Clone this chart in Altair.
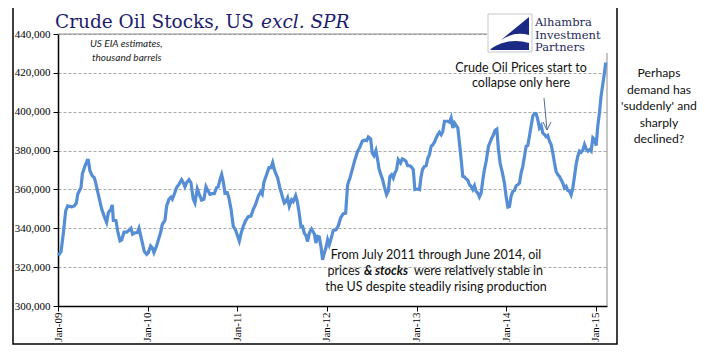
import altair as alt
import pandas as pd

# ---------------- data (decimal year, crude stocks in thousand barrels) ----------------
yr_2009 = [2009.004, 2009.034, 2009.060, 2009.086, 2009.108, 2009.153, 2009.182, 2009.205, 2009.220, 2009.257,
           2009.272, 2009.301, 2009.327, 2009.339, 2009.357, 2009.383, 2009.406, 2009.420, 2009.450, 2009.487,
           2009.517, 2009.543, 2009.562, 2009.592, 2009.606, 2009.618, 2009.647, 2009.666, 2009.692, 2009.711,
           2009.737, 2009.766, 2009.792, 2009.815, 2009.833, 2009.859, 2009.885, 2009.904, 2009.934, 2009.964,
           2009.990]
stk_2009 = [326, 328, 337.7, 349, 351.5, 351, 351.5, 353, 357.5, 361,
            368, 372, 375, 375, 369.5, 367, 366, 363.5, 357.5, 350,
            346, 343, 348, 350, 352, 344, 344, 338.6, 333.5, 334,
            338, 338, 339, 340, 337, 337.7, 337.7, 340, 334, 328,
            326.6]

yr_2010 = [2010.008, 2010.034, 2010.053, 2010.071, 2010.101, 2010.127, 2010.150, 2010.164, 2010.194, 2010.213,
           2010.239, 2010.261, 2010.276, 2010.298, 2010.324, 2010.350, 2010.380, 2010.399, 2010.417, 2010.436,
           2010.462, 2010.484, 2010.510, 2010.529, 2010.555, 2010.577, 2010.603, 2010.629, 2010.652, 2010.678,
           2010.696, 2010.722, 2010.745, 2010.771, 2010.789, 2010.808, 2010.827, 2010.845, 2010.864, 2010.890,
           2010.908, 2010.931, 2010.957, 2010.983]
stk_2010 = [327.5, 331, 330, 327.5, 331, 335, 338.6, 342, 344, 351.5,
            355, 356, 355, 357.5, 361, 362.6, 365, 363.5, 361.4, 363.5,
            365, 363.5, 355, 353, 360.3, 357.5, 354.5, 355, 361.4, 359,
            357.5, 357.8, 357.8, 361, 361.3, 365, 367.7, 364, 358, 358.3,
            355.7, 350, 341, 339]

yr_2011 = [2011.005, 2011.024, 2011.042, 2011.068, 2011.095, 2011.124, 2011.154, 2011.180, 2011.206, 2011.236,
           2011.262, 2011.280, 2011.299, 2011.329, 2011.355, 2011.377, 2011.396, 2011.414, 2011.433, 2011.452,
           2011.478, 2011.504, 2011.526, 2011.545, 2011.563, 2011.582, 2011.608, 2011.626, 2011.653, 2011.671,
           2011.690, 2011.712, 2011.731, 2011.749, 2011.768, 2011.786, 2011.805, 2011.831, 2011.861, 2011.879,
           2011.898, 2011.917, 2011.935, 2011.954, 2011.972, 2011.991]
stk_2011 = [336, 333.4, 337, 341, 344, 346, 346.3, 349.7, 352.3, 356.6,
            358.7, 357.5, 363.8, 367.7, 371.2, 371.2, 373.8, 370.3, 368, 365.9,
            360.7, 356.4, 353, 353.8, 355.6, 351.3, 354.7, 353.8, 356.8, 353.8,
            348.7, 341, 341, 337.5, 336.2, 333.2, 337.5, 339.6, 337.2, 332.4,
            335.8, 335.5, 330.7, 323.8, 327.2, 329.8]

yr_2012 = [2012.010, 2012.028, 2012.047, 2012.073, 2012.103, 2012.129, 2012.155, 2012.185, 2012.211, 2012.233,
           2012.259, 2012.285, 2012.315, 2012.345, 2012.371, 2012.397, 2012.419, 2012.445, 2012.464, 2012.490,
           2012.508, 2012.527, 2012.549, 2012.568, 2012.586, 2012.605, 2012.624, 2012.642, 2012.668, 2012.687,
           2012.705, 2012.724, 2012.743, 2012.761, 2012.780, 2012.798, 2012.824, 2012.843, 2012.862, 2012.884,
           2012.903, 2012.929, 2012.947, 2012.966, 2012.984]
stk_2012 = [334.1, 331.5, 334.4, 338.9, 339.2, 341.3, 345.3, 347.5, 347.8, 362.4,
            365.9, 370.2, 375.3, 379.6, 381.9, 384.8, 385.3, 385.1, 387, 386,
            378.8, 377.4, 380.1, 375.3, 370.2, 367.6, 365, 361.6, 357.3, 359,
            366.7, 367.6, 365.9, 368.5, 370.2, 375.3, 373.6, 375.7, 375.3, 374.5,
            372.2, 372.2, 371.5, 370.2, 359.9]

yr_2013 = [2013.010, 2013.033, 2013.048, 2013.066, 2013.088, 2013.107, 2013.126, 2013.144, 2013.163, 2013.182,
           2013.200, 2013.219, 2013.237, 2013.256, 2013.275, 2013.293, 2013.312, 2013.330, 2013.349, 2013.368,
           2013.386, 2013.405, 2013.423, 2013.442, 2013.461, 2013.479, 2013.498, 2013.516, 2013.535, 2013.554,
           2013.572, 2013.591, 2013.609, 2013.628, 2013.647, 2013.665, 2013.684, 2013.702, 2013.721, 2013.740,
           2013.758, 2013.777, 2013.803, 2013.821, 2013.840, 2013.859, 2013.877, 2013.896, 2013.914, 2013.933,
           2013.959, 2013.981]
stk_2013 = [360.2, 359.9, 365.9, 370.2, 371.9, 372.2, 376.2, 377.9, 382.2, 383,
            384.3, 386.5, 388.2, 389.4, 388.2, 389.9, 395.1, 395.1, 395.1, 394.6,
            396.8, 391.6, 394.2, 392.9, 391.6, 383.9, 375.3, 366.7, 366.4, 365.4,
            364.7, 362.4, 361.6, 359.9, 361.9, 359, 358.1, 356.1, 358.1, 365,
            370.2, 374.5, 382.2, 384.3, 386.5, 388.2, 390.4, 391, 380.5, 373.6,
            368.4, 363.3]

yr_2014_15 = [2014.000, 2014.019, 2014.037, 2014.056, 2014.075, 2014.093, 2014.112, 2014.130, 2014.149, 2014.167,
              2014.186, 2014.205, 2014.223, 2014.242, 2014.260, 2014.279, 2014.298, 2014.316, 2014.335, 2014.353,
              2014.372, 2014.391, 2014.409, 2014.428, 2014.446, 2014.465, 2014.484, 2014.502, 2014.521, 2014.540,
              2014.558, 2014.577, 2014.595, 2014.614, 2014.633, 2014.651, 2014.670, 2014.688, 2014.707, 2014.725,
              2014.744, 2014.763, 2014.781, 2014.800, 2014.819, 2014.837, 2014.856, 2014.875, 2014.893, 2014.912,
              2014.930, 2014.949, 2014.968, 2014.987, 2015.005, 2015.023, 2015.042, 2015.060, 2015.079, 2015.098,
              2015.112]
stk_2014_15 = [356.4, 350.9, 351.2, 356.7, 359, 359.5, 361.9, 362.4, 363.3, 368.4,
               371.9, 377.1, 382.2, 382.6, 387.4, 392.6, 397.8, 399.1, 399, 396,
               391.7, 392.9, 389.1, 388.3, 387.1, 387.8, 384.8, 383.1, 378.8, 373.6,
               369.3, 367.6, 366.7, 365, 363.3, 360.7, 361.6, 359.5, 359, 357.2,
               360.7, 366.7, 372.8, 377.1, 379.7, 379.1, 380.2, 383.1, 380.9, 379.7,
               380.5, 379.7, 386.6, 385.7, 382.6, 392.6, 399.5, 408.1, 414.1, 420.2,
               425.3]

x_tick_years = [2009, 2010, 2011, 2012, 2013, 2014, 2015]
y_ticks = [300000, 320000, 340000, 360000, 380000, 400000, 420000, 440000]

title_main = "Crude Oil Stocks, US"
title_ital = "excl. SPR"
subtitle = ["US EIA estimates,", "thousand barrels"]
logo_lines = ["Alhambra", "Investment", "Partners"]
note_right = ["Perhaps", "demand has", "'suddenly' and", "sharply", "declined?"]
note_collapse = ["Crude Oil Prices start to", "collapse only here"]
note_bottom1 = "From July 2011 through June 2014, oil"
note_bottom2 = ["prices", "& stocks", "were relatively stable in"]
note_bottom3 = "the US despite steadily rising production"

# ---------------- table ----------------
dec_years = yr_2009 + yr_2010 + yr_2011 + yr_2012 + yr_2013 + yr_2014_15
stocks_k = stk_2009 + stk_2010 + stk_2011 + stk_2012 + stk_2013 + stk_2014_15


def to_date(y):
    base = int(y)
    return pd.Timestamp(year=base, month=1, day=1) + pd.Timedelta(days=(y - base) * 365)


df = pd.DataFrame({"date": [to_date(y) for y in dec_years],
                   "stocks": [v * 1000 for v in stocks_k]})

W, H = 549, 272
OX, OY = 58, 34  # page position of plot origin (for annotation placement)
one = pd.DataFrame({"k": [0]})

NAVY = "#1C1C6E"
LINE = "#558ED5"
FRAME = "#8C8C8C"
TXT_FONT = "Lato"


def txt(s, x, y, size=12.5, font=TXT_FONT, color="#111111", align="left",
        style="normal", weight="normal"):
    return alt.Chart(one).mark_text(
        text=s, font=font, fontSize=size, color=color, align=align,
        fontStyle=style, fontWeight=weight, baseline="alphabetic"
    ).encode(x=alt.value(x - OX), y=alt.value(y - OY))


def rule(x, y, x2=None, y2=None, color=FRAME, width=1):
    enc = {"x": alt.value(x - OX), "y": alt.value(y - OY)}
    if x2 is not None:
        enc["x2"] = alt.value(x2 - OX)
    if y2 is not None:
        enc["y2"] = alt.value(y2 - OY)
    return alt.Chart(one).mark_rule(color=color, strokeWidth=width).encode(**enc)


def box(x, y, x2, y2, stroke="black", fill="transparent", width=1.0):
    return alt.Chart(one).mark_rect(fill=fill, stroke=stroke, strokeWidth=width).encode(
        x=alt.value(x - OX), x2=alt.value(x2 - OX), y=alt.value(y - OY), y2=alt.value(y2 - OY))


# outer border and plot frame
outer = box(13, 5, 617, 344, stroke="black", width=1.5)
frame_top = rule(58, 34, x2=607)
frame_right = rule(607, 34, y2=306)

line = alt.Chart(df).mark_line(color=LINE, strokeWidth=3.2).encode(
    x=alt.X("date:T",
            scale=alt.Scale(domain=[alt.DateTime(year=2009, month=1, date=1),
                                    alt.DateTime(year=2015, month=2, date=16)]),
            axis=alt.Axis(values=[alt.DateTime(year=y, month=1, date=1) for y in x_tick_years],
                          format="%b-%y", labelAngle=-90, labelFont="Liberation Serif",
                          labelFontSize=11, labelColor="black", labelPadding=1,
                          domainColor="black", domainWidth=1.5, tickColor="black",
                          tickSize=5, tickWidth=1, grid=False, title=None)),
    y=alt.Y("stocks:Q",
            scale=alt.Scale(domain=[300000, 440000], nice=False, zero=False),
            axis=alt.Axis(values=y_ticks, format=",.0f", labelFont="Liberation Serif",
                          labelFontSize=11, labelColor="black", labelPadding=3,
                          domainColor="black", domainWidth=1.5, tickColor="black",
                          tickSize=5, grid=True, gridDash=[3, 2], gridColor="#A8A8A8",
                          gridWidth=1, title=None)),
)

# logo
logo_bg = box(487, 12, 612, 53, stroke="transparent", fill="white")
logo_icon_box = box(488, 14, 532, 52, stroke="#C8C8C8", fill="white", width=1)
icon_path = ("M41,3 L13,26 Q26,17 41,21 Z "
             "M4,34 Q22,23 41,29 L41,36 L2,36 Z")
logo_icon = alt.Chart(one).mark_point(shape=icon_path, size=4, filled=True, color="#1B2A84",
                                      opacity=1, strokeWidth=0).encode(
    x=alt.value(488 - OX), y=alt.value(14 - OY))
logo_text = [txt(s, 535, 26 + 12.5 * i, size=11.5, font="DejaVu Serif", color="#1F2A5C")
             for i, s in enumerate(logo_lines)]

# titles
t1 = txt(title_main, 55, 28, size=18.5, font="DejaVu Serif", color=NAVY)
t2 = txt(title_ital, 261, 28, size=18.5, font="DejaVu Serif", color=NAVY, style="italic")
sub = [txt(s, 90 + 2 * i, 47 + 14 * i, size=10, style="italic", color="#222222")
       for i, s in enumerate(subtitle)]

# annotations
right_note = [txt(s, 659, 77 + 16.5 * i, size=12.2, align="center")
              for i, s in enumerate(note_right)]
collapse = [txt(s, 521, 72 + 14.5 * i, size=12.5, align="center")
            for i, s in enumerate(note_collapse)]
b1 = txt(note_bottom1, 436, 259, size=12.5, align="center")
b2a = txt(note_bottom2[0], 360, 275, size=12.5, align="right")
b2b = txt(note_bottom2[1], 386, 275, size=12.5, align="center", style="italic", weight="bold")
b2c = txt(note_bottom2[2], 414, 275, size=12.5, align="left")
b3 = txt(note_bottom3, 436, 291, size=12.5, align="center")

ARROW = "#4F6A96"
arrow_line = rule(544, 98, x2=547, y2=130, color=ARROW, width=1)
arrow_head = alt.Chart(one).mark_point(shape="M-4,-8 L0,0 L4,-8", size=4, filled=False,
                                       color=ARROW, opacity=1, strokeWidth=1).encode(
    x=alt.value(547 - OX), y=alt.value(130 - OY))

chart = alt.layer(
    outer, frame_top, frame_right, line,
    logo_bg, logo_icon_box, logo_icon, *logo_text,
    t1, t2, *sub,
    *right_note, *collapse, b1, b2a, b2b, b2c, b3,
    arrow_line, arrow_head,
).properties(
    width=W, height=H,
    padding={"left": OX - 8, "top": OY - 8, "right": 705 - OX - W - 8, "bottom": 361 - OY - H - 8},
    autosize=alt.AutoSizeParams(type="none"),
    background="white",
).configure_view(stroke=None)

chart.save("out.html", embed_options={"renderer": "svg", "actions": False})
